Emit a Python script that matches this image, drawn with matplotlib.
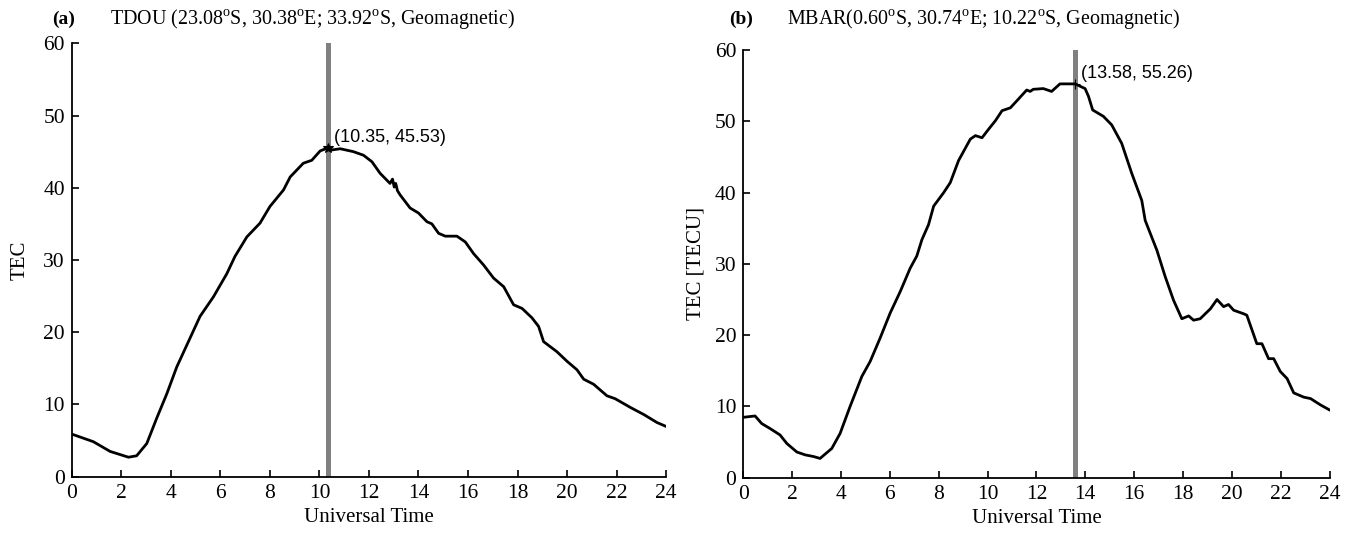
import numpy as np
import matplotlib
matplotlib.use('Agg')
import matplotlib.pyplot as plt

plt.rcParams['font.family'] = 'Liberation Serif'
plt.rcParams['mathtext.fontset'] = 'custom'
plt.rcParams['mathtext.rm'] = 'Liberation Serif'

# TDOU station, TEC vs UT
ut_a = [0, 0.87, 1.55, 2.29, 2.62, 3.03, 3.43, 3.84, 4.24, 4.71, 5.18, 5.72, 6.26, 6.59,
        7.07, 7.6, 8.0, 8.55, 8.82, 9.35, 9.69, 10.03, 10.35, 10.43, 10.84, 11.37, 11.78,
        12.12, 12.45, 12.85, 12.95, 13.02, 13.08, 13.15, 13.26, 13.66, 14.0, 14.34, 14.54,
        14.81, 15.08, 15.55, 15.89, 16.22, 16.63, 17.03, 17.44, 17.84, 18.18, 18.58, 18.85,
        19.05, 19.59, 19.99, 20.4, 20.67, 21.07, 21.61, 21.94, 22.55, 23.1, 23.63, 23.97]
tec_a = [5.9, 4.85, 3.5, 2.7, 2.9, 4.6, 8.1, 11.5, 15.2, 18.7, 22.2, 24.9, 28.1, 30.5,
         33.2, 35.1, 37.4, 39.7, 41.5, 43.4, 43.8, 45.1, 45.53, 45.2, 45.4, 45.0, 44.5,
         43.6, 42.0, 40.6, 41.2, 40.1, 40.6, 39.6, 39.0, 37.2, 36.5, 35.3, 35.0,
         33.7, 33.3, 33.3, 32.5, 30.9, 29.3, 27.5, 26.3, 23.8, 23.3, 22.0, 20.8,
         18.7, 17.3, 16.0, 14.8, 13.5, 12.8, 11.2, 10.8, 9.6, 8.6, 7.5, 7.0]

# MBAR station, TEC vs UT
ut_b = [0, 0.48, 0.75, 1.09, 1.5, 1.78, 2.19, 2.53, 2.87, 3.14, 3.62, 3.96, 4.37, 4.85,
        5.19, 5.6, 6.01, 6.42, 6.83, 7.1, 7.31, 7.58, 7.79, 8.2, 8.47, 8.81, 9.29, 9.5,
        9.77, 10.04, 10.32, 10.59, 10.93, 11.2, 11.6, 11.74, 11.87, 12.28, 12.62, 12.96,
        13.58, 13.99, 14.13, 14.3, 14.74, 15.08, 15.49, 15.9, 16.31, 16.45, 16.93, 17.27,
        17.61, 17.95, 18.23, 18.43, 18.7, 19.12, 19.39, 19.66, 19.86, 20.07, 20.48, 20.61,
        21.02, 21.23, 21.5, 21.71, 21.98, 22.26, 22.53, 22.94, 23.22, 23.63, 24.0]
tec_b = [8.47, 8.66, 7.6, 6.9, 6.0, 4.8, 3.6, 3.2, 2.97, 2.7, 4.1, 6.2, 10.0, 14.2,
         16.3, 19.6, 23.1, 26.1, 29.4, 31.1, 33.4, 35.5, 38.1, 40.0, 41.4, 44.5, 47.5, 48.0,
         47.7, 48.9, 50.1, 51.5, 51.9, 52.9, 54.4, 54.2, 54.5, 54.6, 54.2, 55.26,
         55.26, 54.6, 53.5, 51.6, 50.7, 49.5, 46.9, 42.7, 38.9, 36.1, 31.9, 28.2,
         24.9, 22.3, 22.7, 22.1, 22.3, 23.7, 25.0, 24.0, 24.3, 23.5, 23.0, 22.8,
         18.8, 18.8, 16.7, 16.7, 14.9, 13.9, 11.9, 11.3, 11.1, 10.2, 9.5]

peak_a = (10.35, 45.53)
peak_b = (13.58, 55.26)

fig = plt.figure(figsize=(13.54, 5.33), dpi=100)
ax1 = fig.add_axes([0.053, 0.1056, 0.439, 0.8132])
ax2 = fig.add_axes([0.549, 0.1038, 0.433, 0.8022])

panels = [
    (ax1, ut_a, tec_a, peak_a, '*', 'TEC', 10),
    (ax2, ut_b, tec_b, peak_b, '+', 'TEC [TECU]', 7),
]
for ax, x, y, pk, mk, ylab, ypad in panels:
    ax.axvline(pk[0], color='#808080', lw=3.6, zorder=1)
    ax.plot(x, y, color='black', lw=2.0, zorder=2)
    ax.plot(pk[0], pk[1], marker=mk, color='black', ms=7, mew=0.8, zorder=3)
    ax.annotate('(%.2f, %.2f)' % pk, xy=pk, xytext=(4, 1), textcoords='offset points',
                fontsize=13, family='Liberation Sans', va='bottom', ha='left')
    ax.set_xlim(0, 24)
    ax.set_ylim(0, 60)
    ax.set_xticks(np.arange(0, 25, 2))
    ax.set_yticks(np.arange(0, 61, 10))
    ax.spines['top'].set_visible(False)
    ax.spines['right'].set_visible(False)
    for s in ('left', 'bottom'):
        ax.spines[s].set_linewidth(1.3)
    ax.tick_params(direction='in', length=5, width=1.2, labelsize=15.5, pad=5)
    ax.set_xlabel('Universal Time', fontsize=15, labelpad=4)
    ax.set_ylabel(ylab, fontsize=15, labelpad=ypad)

fig.text(52 / 1354, 1 - 19 / 533, '(a)', fontsize=14, fontweight='bold', va='center')
fig.text(110 / 1354, 1 - 19 / 533,
         r'TDOU (23.08$^{\rm o}$S, 30.38$^{\rm o}$E; 33.92$^{\rm o}$S, Geomagnetic)',
         fontsize=14.4, va='center')
fig.text(729 / 1354, 1 - 19 / 533, '(b)', fontsize=14, fontweight='bold', va='center')
fig.text(787 / 1354, 1 - 19 / 533,
         r'MBAR(0.60$^{\rm o}$S, 30.74$^{\rm o}$E; 10.22$^{\rm o}$S, Geomagnetic)',
         fontsize=14.4, va='center')

fig.savefig('out.png', dpi=100)
